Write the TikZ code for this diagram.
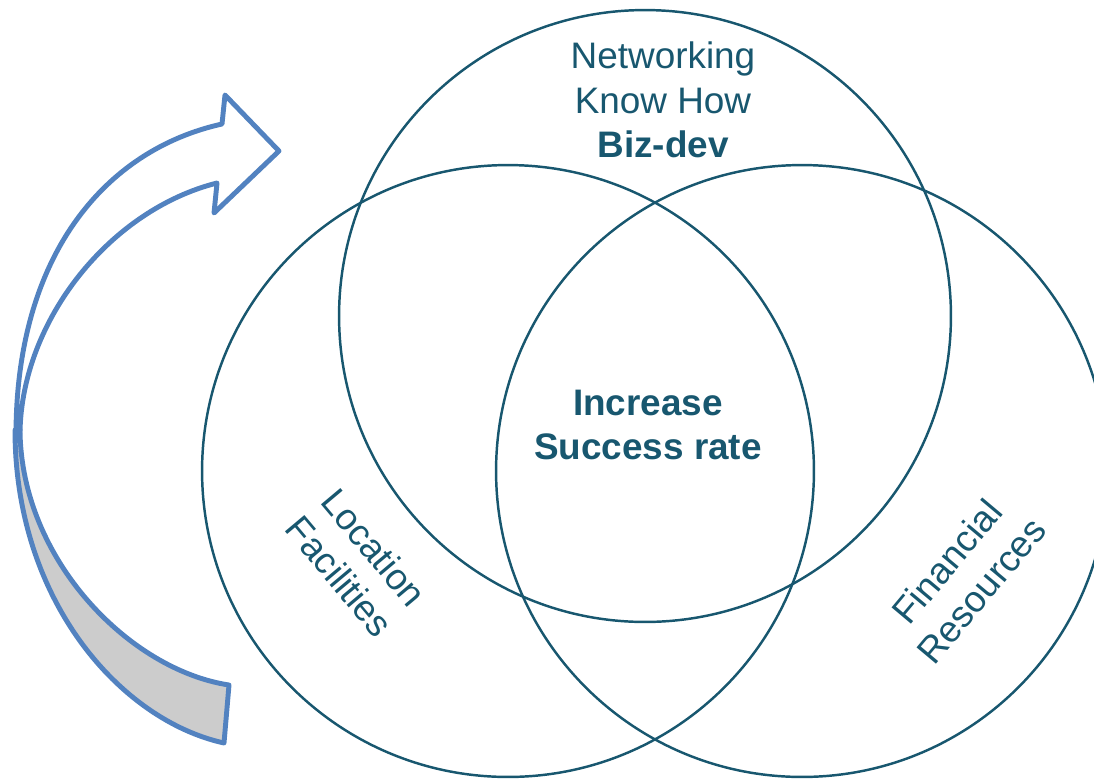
\documentclass[tikz,border=0pt]{standalone}
\usepackage{fontspec}
\setmainfont{Liberation Sans}
\definecolor{vennblue}{HTML}{18576F}
\definecolor{arrowblue}{HTML}{5282C0}
\definecolor{arrowgray}{HTML}{CCCCCC}

\begin{document}
\begin{tikzpicture}[x=0.02cm,y=-0.02cm]
        \useasboundingbox (0,0) rectangle (1094,778);

        \begin{scope}[line width=2.8pt, draw=arrowblue, line join=round]
          \draw[fill=arrowgray] (15,430) .. controls (15,600) and (120,720) .. (224,743)
            -- (229,685) .. controls (130,670) and (21,560) .. (20,430) -- cycle;
          \draw[fill=white] (16,432) .. controls (17,255) and (105,150) .. (222,124)
            -- (225,95) -- (279,151) -- (214,213) -- (217,183)
            .. controls (110,210) and (22,320) .. (20,432) -- cycle;
        \end{scope}

        \begin{scope}[every node/.style={circle, draw=vennblue, line width=1.4pt, minimum size=12.24cm, inner sep=0pt}]
          \node (top)   at (645,316) {};
          \node (left)  at (508,471) {};
          \node (right) at (802,471) {};
        \end{scope}

        \begin{scope}[every node/.style={text=vennblue, align=center, font=\fontsize{21}{25.5}\selectfont}]
          \node (net)  at (663,100) {Networking\\Know How\\\textbf{Biz-dev}};
          \node (succ) at (648,425) {\textbf{Increase}\\\textbf{Success rate}};
          \node[rotate=-50] (loc) at (357,562) {Location\\Facilities};
          \node[rotate=50]  (fin) at (964,576) {Financial\\Resources};
        \end{scope}

      \end{tikzpicture}
\end{document}
